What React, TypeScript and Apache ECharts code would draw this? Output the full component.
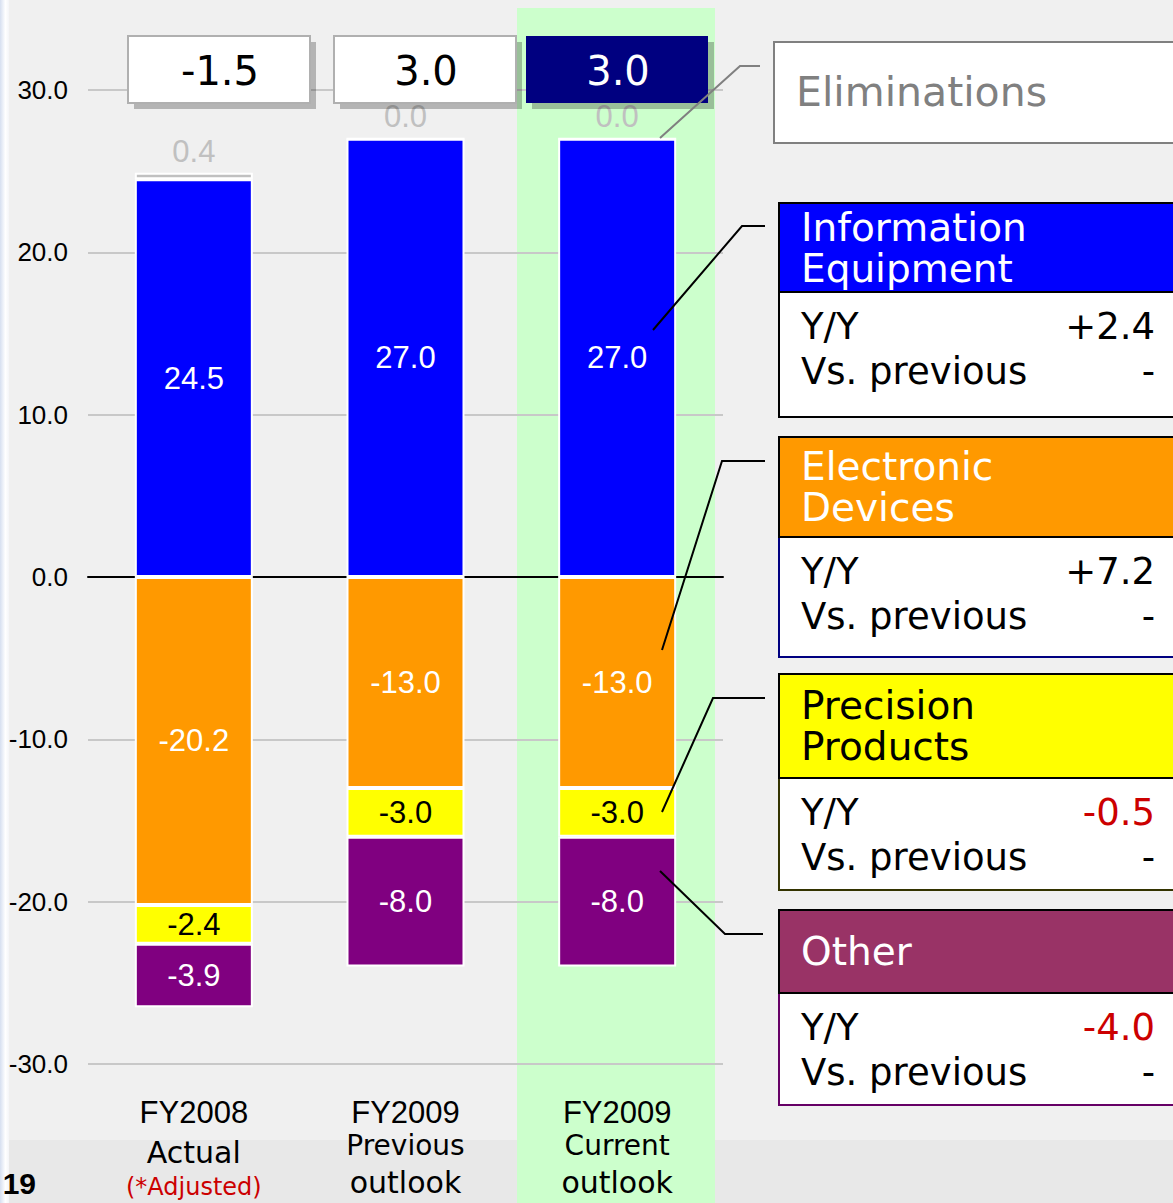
import React, { useEffect, useRef } from "react";
import * as echarts from "echarts";

// ---------- data ----------
const categories = ["FY2008", "FY2009", "FY2009"];
const categorySub1 = ["Actual", "Previous", "Current"];
const categorySub2 = ["", "outlook", "outlook"];
const categoryNote = ["(*Adjusted)", "", ""];

const infoEquipment = [24.5, 27.0, 27.0];
const eliminations = [0.4, 0.0, 0.0];
const electronicDevices = [-20.2, -13.0, -13.0];
const precisionProducts = [-2.4, -3.0, -3.0];
const otherSeg = [-3.9, -8.0, -8.0];

const totals = ["-1.5", "3.0", "3.0"];

const yMin = -30;
const yMax = 30;
const yInterval = 10;

const segNames = [["Information", "Equipment"], ["Electronic", "Devices"], ["Precision", "Products"], ["Other"]];
const segYY = ["+2.4", "+7.2", "-0.5", "-4.0"];
const segVsPrev = ["-", "-", "-", "-"];

// ---------- styles ----------
const C_BLUE = "#0000ff";
const C_ORANGE = "#ff9900";
const C_YELLOW = "#ffff00";
const C_PURPLE = "#800080";
const C_ELIM = "#c0c0c0";
const ARIAL = "Liberation Sans, Arial, sans-serif";
const WIDE = "DejaVu Sans, Verdana, sans-serif";

const segHeaderFill = [C_BLUE, C_ORANGE, C_YELLOW, "#993366"];
const segHeaderText = ["#ffffff", "#ffffff", "#000000", "#ffffff"];
const segBodyStroke = ["#000000", "#000080", "#333300", "#660066"];
const segYYColor = ["#000000", "#000000", "#cc0000", "#cc0000"];
// layout of right-hand boxes: [headerTop, headerBottom, bodyBottom]
const segLayout = [
  [203, 292, 417],
  [437, 537, 657],
  [674, 778, 890],
  [910, 993, 1105],
];
const connectors = [
  [[653, 330], [742, 226], [765, 226]],
  [[662, 650], [722, 461], [765, 461]],
  [[662, 812], [713, 698], [765, 698]],
  [[660, 871], [725, 934], [763, 934]],
];

function barLabel(color: string) {
  return {
    show: true,
    position: "inside",
    color,
    fontSize: 31,
    fontFamily: ARIAL,
    formatter: (p: any) => Number(p.value).toFixed(1),
  };
}

export default function App() {
  const ref = useRef<HTMLDivElement>(null);

  useEffect(() => {
    document.body.style.margin = "0";
    const chart = echarts.init(ref.current!, null, { renderer: "svg" });

    const graphics: any[] = [];
    // background pieces
    graphics.push({
      type: "rect",
      z: -3,
      shape: { x: 0, y: 0, width: 9, height: 1203 },
      style: {
        fill: {
          type: "linear",
          x: 0,
          y: 0,
          x2: 1,
          y2: 0,
          colorStops: [
            { offset: 0, color: "#d6dff0" },
            { offset: 0.6, color: "#ffffff" },
            { offset: 1, color: "#f4f5f8" },
          ],
        },
      },
    });
    graphics.push({
      type: "rect",
      z: -3,
      shape: { x: 9, y: 1140, width: 1164, height: 63 },
      style: { fill: "#e8e8e8" },
    });
    graphics.push({
      type: "rect",
      z: -2,
      shape: { x: 517, y: 8, width: 198, height: 1195 },
      style: { fill: "#ccffcc" },
    });

    // total boxes at top
    const boxX = [128, 334, 526];
    totals.forEach((t, i) => {
      const dark = i === 2;
      graphics.push({
        type: "rect",
        z: 10,
        shape: { x: boxX[i] + 6, y: 42, width: 182, height: 67 },
        style: { fill: "rgba(0,0,0,0.25)" },
      });
      graphics.push({
        type: "rect",
        z: 11,
        shape: { x: boxX[i], y: 36, width: 182, height: 67 },
        style: dark
          ? { fill: "#000080" }
          : { fill: "#ffffff", stroke: "#b0b0b0", lineWidth: 2 },
      });
      graphics.push({
        type: "text",
        z: 12,
        x: boxX[i] + 92,
        y: 71,
        style: {
          text: t,
          fill: dark ? "#ffffff" : "#000000",
          fontSize: 40,
          fontFamily: WIDE,
          align: "center",
          verticalAlign: "middle",
        },
      });
    });

    // eliminations box
    graphics.push({
      type: "polyline",
      z: 12,
      shape: { points: [[660, 138], [740, 66], [760, 66]] },
      style: { stroke: "#808080", lineWidth: 2, fill: null },
    });
    graphics.push({
      type: "rect",
      z: 11,
      shape: { x: 774, y: 42, width: 420, height: 101 },
      style: { fill: "#ffffff", stroke: "#808080", lineWidth: 2 },
    });
    graphics.push({
      type: "text",
      z: 12,
      x: 796,
      y: 92,
      style: {
        text: "Eliminations",
        fill: "#808080",
        fontSize: 41,
        fontFamily: WIDE,
        align: "left",
        verticalAlign: "middle",
      },
    });

    // segment boxes
    segNames.forEach((lines, i) => {
      const [ht, hb, bb] = segLayout[i];
      graphics.push({
        type: "polyline",
        z: 12,
        shape: { points: connectors[i] },
        style: { stroke: "#000000", lineWidth: 2, fill: null },
      });
      graphics.push({
        type: "rect",
        z: 11,
        shape: { x: 779, y: hb, width: 420, height: bb - hb },
        style: { fill: "#ffffff", stroke: segBodyStroke[i], lineWidth: 2 },
      });
      graphics.push({
        type: "rect",
        z: 11,
        shape: { x: 779, y: ht, width: 420, height: hb - ht },
        style: { fill: segHeaderFill[i], stroke: "#000000", lineWidth: 2 },
      });
      const mid = (ht + hb) / 2;
      const step = 41;
      lines.forEach((ln, k) => {
        graphics.push({
          type: "text",
          z: 12,
          x: 801,
          y: mid + (k - (lines.length - 1) / 2) * step,
          style: {
            text: ln,
            fill: segHeaderText[i],
            fontSize: 39,
            fontFamily: WIDE,
            align: "left",
            verticalAlign: "middle",
          },
        });
      });
      graphics.push({
        type: "text",
        z: 12,
        x: 801,
        y: hb + 34,
        style: { text: "Y/Y", fill: "#000", fontSize: 37, fontFamily: WIDE, align: "left", verticalAlign: "middle" },
      });
      graphics.push({
        type: "text",
        z: 12,
        x: 801,
        y: hb + 79,
        style: { text: "Vs. previous", fill: "#000", fontSize: 37, fontFamily: WIDE, align: "left", verticalAlign: "middle" },
      });
      graphics.push({
        type: "text",
        z: 12,
        x: 1155,
        y: hb + 34,
        style: { text: segYY[i], fill: segYYColor[i], fontSize: 37, fontFamily: WIDE, align: "right", verticalAlign: "middle" },
      });
      graphics.push({
        type: "text",
        z: 12,
        x: 1155,
        y: hb + 79,
        style: { text: segVsPrev[i], fill: "#000", fontSize: 37, fontFamily: WIDE, align: "right", verticalAlign: "middle" },
      });
    });

    // page number
    graphics.push({
      type: "text",
      z: 12,
      x: 36,
      y: 1183,
      style: { text: "19", fill: "#000", fontSize: 30, fontWeight: "bold", fontFamily: ARIAL, align: "right", verticalAlign: "middle" },
    });

    const option: any = {
      animation: false,
      backgroundColor: "#f0f0f0",
      grid: { left: 88, right: 450, top: 90, bottom: 139, containLabel: false },
      xAxis: [
        {
          type: "category",
          data: categories,
          axisLine: { show: false, onZero: false },
          axisTick: { show: false },
          axisLabel: {
            margin: 31,
            interval: 0,
            formatter: (v: string, idx: number) => {
              if (categoryNote[idx]) {
                return `{y|${v}}\n{s1|${categorySub1[idx]}}\n{n|${categoryNote[idx]}}`;
              }
              return `{y|${v}}\n{s2|${categorySub1[idx]}}\n{s3|${categorySub2[idx]}}`;
            },
            rich: {
              y: { fontSize: 31, fontFamily: ARIAL, color: "#000", lineHeight: 34 },
              s1: { fontSize: 30, fontFamily: WIDE, color: "#000", lineHeight: 46 },
              n: { fontSize: 24, fontFamily: WIDE, color: "#cc0000", lineHeight: 24 },
              s2: { fontSize: 28, fontFamily: WIDE, color: "#000", lineHeight: 32 },
              s3: { fontSize: 30, fontFamily: WIDE, color: "#000", lineHeight: 42 },
            },
          },
          splitLine: { show: false },
        },
        {
          type: "category",
          data: categories,
          position: "bottom",
          axisLine: { show: true, onZero: true, lineStyle: { color: "#000", width: 2 } },
          axisTick: { show: false },
          axisLabel: { show: false },
        },
      ],
      yAxis: {
        type: "value",
        min: yMin,
        max: yMax,
        interval: yInterval,
        axisLine: { show: false },
        axisTick: { show: false },
        axisLabel: {
          margin: 20,
          color: "#000",
          fontSize: 26,
          fontFamily: ARIAL,
          formatter: (v: number) => v.toFixed(1),
        },
        splitLine: { show: true, lineStyle: { color: "#c8c8c8", width: 2 } },
      },
      graphic: graphics,
      series: [
        {
          name: "Information Equipment",
          type: "bar",
          stack: "total",
          data: infoEquipment,
          barWidth: 118,
          itemStyle: { color: C_BLUE, borderColor: "#fff", borderWidth: 2 },
          label: barLabel("#ffffff"),
        },
        {
          name: "Eliminations",
          type: "bar",
          stack: "total",
          data: eliminations,
          barWidth: 118,
          itemStyle: { color: C_ELIM, borderColor: "#fff", borderWidth: 2 },
          label: {
            show: true,
            position: "top",
            distance: 6,
            color: C_ELIM,
            fontSize: 31,
            fontFamily: ARIAL,
            formatter: (p: any) => Number(p.value).toFixed(1),
          },
        },
        {
          name: "Electronic Devices",
          type: "bar",
          stack: "total",
          data: electronicDevices,
          barWidth: 118,
          itemStyle: { color: C_ORANGE, borderColor: "#fff", borderWidth: 2 },
          label: barLabel("#ffffff"),
        },
        {
          name: "Precision Products",
          type: "bar",
          stack: "total",
          data: precisionProducts,
          barWidth: 118,
          itemStyle: { color: C_YELLOW, borderColor: "#fff", borderWidth: 2 },
          label: barLabel("#000000"),
        },
        {
          name: "Other",
          type: "bar",
          stack: "total",
          data: otherSeg,
          barWidth: 118,
          itemStyle: { color: C_PURPLE, borderColor: "#fff", borderWidth: 2 },
          label: barLabel("#ffffff"),
        },
      ],
    };

    chart.setOption(option);
    return () => chart.dispose();
  }, []);

  return <div ref={ref} style={{ width: 1173, height: 1203 }} />;
}
